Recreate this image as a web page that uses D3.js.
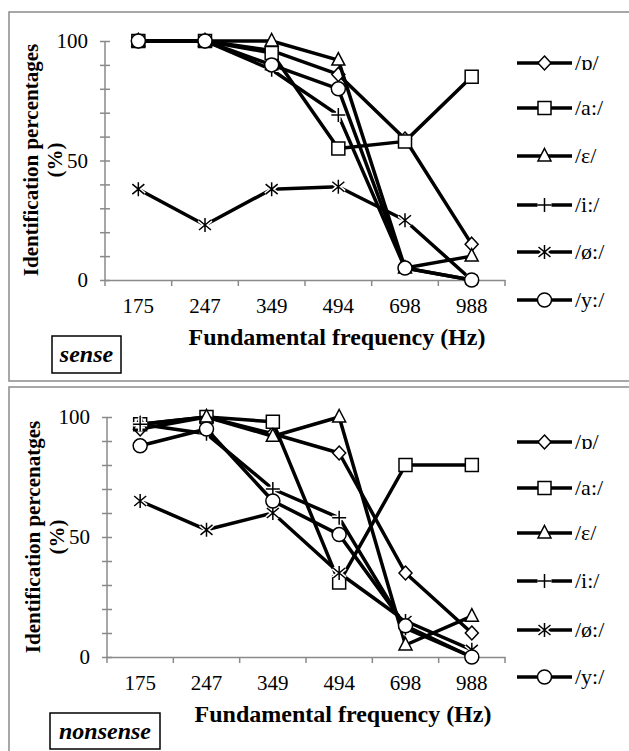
<!DOCTYPE html>
<html>
<head>
<meta charset="utf-8">
<script src="https://cdn.jsdelivr.net/npm/d3@7"></script>
<style>
  body { margin: 0; background: #fff; }
  text { font-family: "Liberation Serif", "Times New Roman", serif; }
</style>
</head>
<body>
<div id="chart"></div>
<script>
// categories (fundamental frequency, Hz)
const categories = ["175", "247", "349", "494", "698", "988"];
const seriesNames = ["/ɒ/", "/a:/", "/ɛ/", "/i:/", "/ø:/", "/y:/"];
const markerTypes = ["diamond", "square", "triangle", "plus", "star", "circle"];
const yTicks = [0, 10, 20, 30, 40, 50, 60, 70, 80, 90, 100];
const yLabels = [0, 50, 100];

// sense words
const senseO = [100, 100, 96, 86, 59, 15];
const senseA = [100, 100, 95, 55, 58, 85];
const senseE = [100, 100, 100, 92, 5, 10];
const senseI = [100, 100, 88, 69, 5, 0];
const senseOe = [38, 23, 38, 39, 25, 0];
const senseY = [100, 100, 90, 80, 5, 0];

// nonsense words
const nonsO = [95, 100, 93, 85, 35, 10];
const nonsA = [97, 100, 98, 31, 80, 80];
const nonsE = [97, 100, 92, 100, 5, 17];
const nonsI = [97, 93, 70, 58, 12, 0];
const nonsOe = [65, 53, 60, 35, 15, 3];
const nonsY = [88, 95, 65, 51, 13, 0];

var width = 629, height = 751;
var grey = "#8a8a8a";

var svg = d3.select("#chart").append("svg")
  .attr("width", width)
  .attr("height", height);

// marker shapes
function markerPath(type) {
  var p = d3.path();
  if (type == "diamond") {
    p.moveTo(0, -7); p.lineTo(6.5, 0); p.lineTo(0, 7); p.lineTo(-6.5, 0); p.closePath();
  } else if (type == "square") {
    p.rect(-6.5, -6.5, 13, 13);
  } else if (type == "triangle") {
    p.moveTo(0, -7.5); p.lineTo(6.5, 5); p.lineTo(-6.5, 5); p.closePath();
  } else if (type == "circle") {
    p.arc(0, 0, 7, 0, 2 * Math.PI);
  } else if (type == "plus") {
    p.moveTo(-7, 0); p.lineTo(7, 0); p.moveTo(0, -7); p.lineTo(0, 7);
  } else if (type == "star") {
    p.moveTo(0, -7); p.lineTo(0, 7);
    p.moveTo(-6, -5); p.lineTo(6, 5);
    p.moveTo(-6, 5); p.lineTo(6, -5);
  }
  return p.toString();
}

function drawMarker(g, type, cx, cy) {
  var open = (type == "plus" || type == "star");
  if (open) {
    g.append("path").attr("d", markerPath(type))
      .attr("transform", `translate(${cx},${cy})`)
      .attr("fill", "none").attr("stroke", "#fff").attr("stroke-width", 4.5);
  }
  g.append("path").attr("d", markerPath(type))
    .attr("transform", `translate(${cx},${cy})`)
    .attr("fill", open ? "none" : "#fff")
    .attr("stroke", "#000")
    .attr("stroke-width", 1.5);
}

function drawPanel(cfg) {
  var g = svg.append("g");

  // panel frame
  g.append("rect")
    .attr("x", cfg.box[0]).attr("y", cfg.box[1])
    .attr("width", cfg.box[2]).attr("height", cfg.box[3])
    .attr("fill", "none").attr("stroke", grey).attr("stroke-width", 1.5);

  var x = d3.scaleBand().domain(categories).range([cfg.left, cfg.right]);
  var y = d3.scaleLinear().domain([0, 100]).range([cfg.bottom, cfg.top]);

  // y axis
  var yAxis = g.append("g")
    .attr("transform", `translate(${cfg.left},0)`)
    .call(d3.axisLeft(y).tickValues(yTicks).tickSize(5)
      .tickFormat(d => yLabels.includes(d) ? d : ""));
  yAxis.select(".domain").attr("stroke", grey).attr("stroke-width", 1.5).attr("d", `M0,${cfg.bottom}V${cfg.top}`);
  yAxis.selectAll(".tick line").attr("stroke", grey).attr("stroke-width", 1.5).attr("x1", -5).attr("x2", 5);
  yAxis.selectAll(".tick text").attr("x", -17).attr("font-size", 21)
    .attr("font-family", "Liberation Serif").attr("fill", "#000");

  // x axis: labels at category centres, ticks at boundaries
  var xAxis = g.append("g")
    .attr("transform", `translate(0,${cfg.bottom})`)
    .call(d3.axisBottom(x).tickSize(0));
  xAxis.select(".domain").attr("stroke", grey).attr("stroke-width", 1.5);
  xAxis.selectAll(".tick text").attr("y", 18).attr("font-size", 21)
    .attr("font-family", "Liberation Serif").attr("fill", "#000");
  var bounds = categories.map(c => x(c)).concat([cfg.right]);
  xAxis.selectAll(".bound").data(bounds).enter().append("line")
    .attr("x1", d => d).attr("x2", d => d)
    .attr("y1", 0).attr("y2", 6)
    .attr("stroke", grey).attr("stroke-width", 1.5);

  // series
  var line = d3.line()
    .x((d, i) => x(categories[i]) + x.bandwidth() / 2)
    .y(d => y(d));
  cfg.series.forEach(function(vals, k) {
    g.append("path").datum(vals)
      .attr("d", line)
      .attr("fill", "none")
      .attr("stroke", "#000")
      .attr("stroke-width", 3.5)
      .attr("stroke-linejoin", "round");
    vals.forEach(function(v, i) {
      drawMarker(g, markerTypes[k], x(categories[i]) + x.bandwidth() / 2, y(v));
    });
  });

  // legend
  seriesNames.forEach(function(name, k) {
    var ly = cfg.legendY[k];
    g.append("line")
      .attr("x1", 517).attr("x2", 572).attr("y1", ly).attr("y2", ly)
      .attr("stroke", "#000").attr("stroke-width", 3.5);
    drawMarker(g, markerTypes[k], 544.5, ly);
    g.append("text")
      .attr("x", 575).attr("y", ly + 7)
      .attr("font-size", 22)
      .text(name);
  });

  // axis titles
  g.append("text")
    .attr("x", cfg.xTitle[0]).attr("y", cfg.xTitle[1])
    .attr("text-anchor", "middle")
    .attr("font-size", 24).attr("font-weight", "bold")
    .text("Fundamental frequency (Hz)");

  var yt = g.append("text")
    .attr("transform", `translate(${cfg.yTitle[0]},${cfg.yTitle[1]}) rotate(-90)`)
    .attr("text-anchor", "middle")
    .attr("font-size", 21).attr("font-weight", "bold");
  yt.append("tspan").attr("x", 0).attr("y", 0).text(cfg.yTitleText);
  yt.append("tspan").attr("x", 0).attr("y", 24).text("(%)");

  // condition label box
  g.append("rect")
    .attr("x", cfg.tag[0]).attr("y", cfg.tag[1])
    .attr("width", cfg.tag[2]).attr("height", cfg.tag[3])
    .attr("fill", "#fff").attr("stroke", "#000").attr("stroke-width", 1.5);
  g.append("text")
    .attr("x", cfg.tag[0] + cfg.tag[2] / 2).attr("y", cfg.tag[1] + 26)
    .attr("text-anchor", "middle")
    .attr("font-size", 24).attr("font-weight", "bold").attr("font-style", "italic")
    .text(cfg.tagText);
}

drawPanel({
  box: [9, 12, 640, 369],
  left: 105, right: 505, top: 41, bottom: 280,
  series: [senseO, senseA, senseE, senseI, senseOe, senseY],
  legendY: [63, 108, 156, 205, 252, 300],
  xTitle: [337, 345],
  yTitle: [38, 160],
  yTitleText: "Identification percentages",
  tag: [52, 336, 69, 37],
  tagText: "sense"
});

drawPanel({
  box: [9, 387, 640, 380],
  left: 107, right: 505, top: 417, bottom: 657,
  series: [nonsO, nonsA, nonsE, nonsI, nonsOe, nonsY],
  legendY: [442, 488, 533, 581, 630, 677],
  xTitle: [343, 722],
  yTitle: [40, 537],
  yTitleText: "Identification percenatges",
  tag: [50, 713, 110, 36],
  tagText: "nonsense"
});
</script>
</body>
</html>
